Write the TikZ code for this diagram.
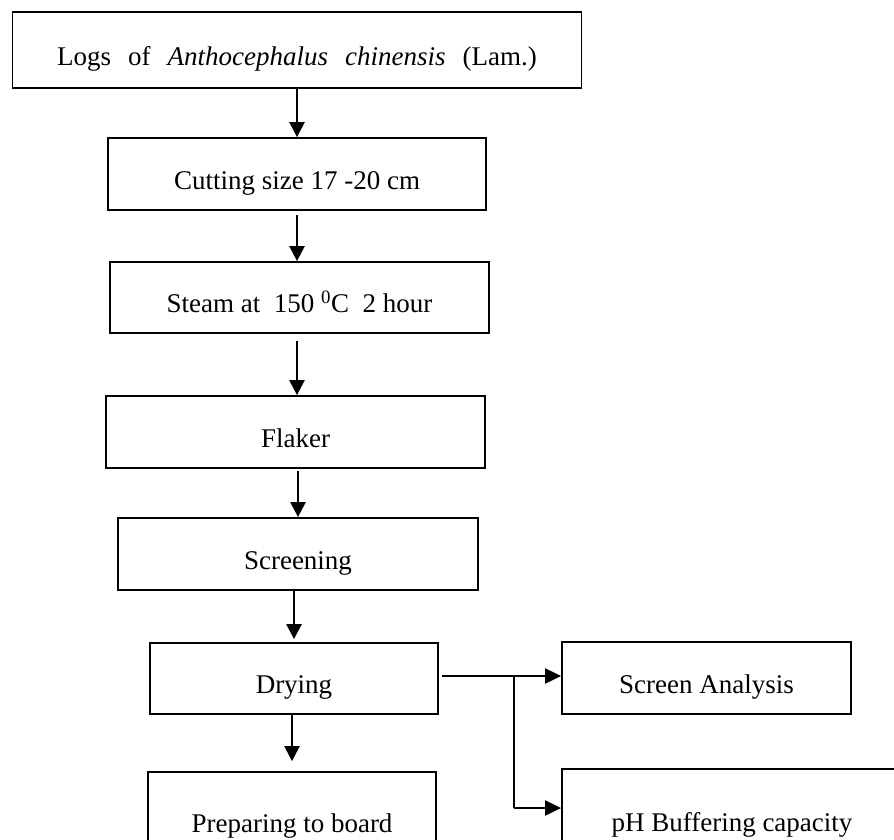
\documentclass[tikz,border=0pt]{standalone}
\usepackage{fontspec}
\setmainfont{Liberation Serif}
\usetikzlibrary{arrows.meta}
\begin{document}
\begin{tikzpicture}[x=1pt,y=-1pt,
  box/.style={draw, line width=1.8pt, inner sep=0pt, text height=30pt, text depth=0pt,
              font=\fontsize{27}{32}\selectfont},
  arr/.style={line width=2.4pt, -{Triangle[length=15pt,width=15pt]}},
  sidearr/.style={line width=2pt, -{Triangle[length=16pt,width=15pt]}},
  thinline/.style={line width=1.7pt}]
\useasboundingbox (0,0) rectangle (894,839);
\clip (0,0) rectangle (894,839);
\node[box, minimum width=569pt, minimum height=76pt] (b1) at (297,50)
  {Logs\hspace{0.63em}of\hspace{0.63em}\textit{Anthocephalus}\hspace{0.63em}\textit{chinensis}\hspace{0.63em}(Lam.)};
\node[box, minimum width=378pt, minimum height=72pt] (b2) at (297,174) {Cutting size 17 -20 cm};
\node[box, minimum width=379pt, minimum height=71pt] (b3) at (299.5,297.5) {Steam at\ \ 150 \textsuperscript{0}C\ \ 2 hour};
\node[box, minimum width=379pt, minimum height=72pt] (b4) at (295.5,432) {Flaker};
\node[box, minimum width=360pt, minimum height=72pt] (b5) at (298,554) {Screening};
\node[box, minimum width=288pt, minimum height=71pt] (b6) at (294,678.5) {Drying};
\node[box, minimum width=288pt, minimum height=90pt] (b7) at (292,817) {Preparing to board};
\node[box, minimum width=289pt, minimum height=72pt] (b8) at (706.5,678) {Screen Analysis};
\node[box, minimum width=340pt, minimum height=94pt] (b9) at (732,816) {pH Buffering capacity};
\draw[arr] (b1.south) -- (b2.north);
\draw[arr] (b2.south) ++(0,4) -- (b2.south |- b3.north);
\draw[arr] (b2.south |- b3.south) ++(0,7) -- (b2.south |- b4.north);
\draw[arr] (b5.north |- b4.south) ++(0,2) -- (b5.north);
\draw[arr] (b6.north |- b5.south) -- ([yshift=3pt]b6.north);
\draw[arr] (b7.north |- b6.south) -- ([yshift=10pt]b7.north);
\coordinate (j) at (514,676);
\coordinate (k) at (514,808);
\draw[sidearr] (b6.east |- j) ++(3,0) -- (b8.west |- j);
\draw[thinline] (j) -- (k);
\draw[sidearr] (k) -- (b9.west |- k);
\end{tikzpicture}
\end{document}
